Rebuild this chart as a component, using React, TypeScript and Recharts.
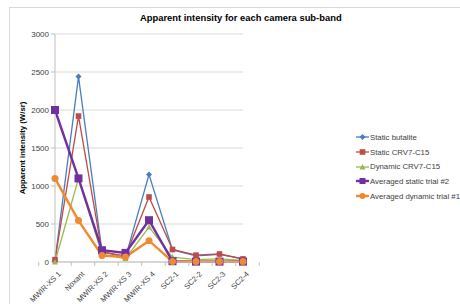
import React from "react"
import { LineChart, Line, XAxis, YAxis, CartesianGrid, Legend } from "recharts"

const bands = ["MWIR-XS 1", "Noxant", "MWIR-XS 2", "MWIR-XS 3", "MWIR-XS 4", "SC2-1", "SC2-2", "SC2-3", "SC2-4"]
const staticButalite = [20, 2440, 140, 60, 1150, 160, 80, 100, 40]
const staticCrv7 = [30, 1920, 130, 80, 855, 165, 90, 105, 40]
const dynamicCrv7 = [0, 1100, 100, 45, 460, 65, 30, 40, 20]
const avgStatic2 = [2000, 1100, 155, 120, 550, 10, 5, 5, 5]
const avgDynamic1 = [1100, 545, 85, 65, 280, 5, 5, 5, 5]
const yTicks = [0, 500, 1000, 1500, 2000, 2500, 3000]

const data = bands.map((b, i) => ({
  band: b,
  s1: staticButalite[i],
  s2: staticCrv7[i],
  s3: dynamicCrv7[i],
  s4: avgStatic2[i],
  s5: avgDynamic1[i],
}))

type Marker = "diamond" | "square" | "triangle" | "circle"

interface SeriesDef {
  key: string
  name: string
  color: string
  marker: Marker
  size: number
  width: number
}

const series: SeriesDef[] = [
  { key: "s1", name: "Static butalite", color: "#4a7ebb", marker: "diamond", size: 3, width: 1.3 },
  { key: "s2", name: "Static CRV7-C15", color: "#be4b48", marker: "square", size: 2.8, width: 1.3 },
  { key: "s3", name: "Dynamic CRV7-C15", color: "#98b954", marker: "triangle", size: 3, width: 1.3 },
  { key: "s4", name: "Averaged static trial #2", color: "#7030a0", marker: "square", size: 4, width: 2.4 },
  { key: "s5", name: "Averaged dynamic trial #1", color: "#f08a30", marker: "circle", size: 3.5, width: 2.4 },
]

const FONT = "Liberation Sans, Arial, sans-serif"

function drawMarker(m: Marker, cx: number, cy: number, s: number, color: string) {
  if (m === "square") return <rect x={cx - s} y={cy - s} width={s * 2} height={s * 2} fill={color} />
  if (m === "circle") return <circle cx={cx} cy={cy} r={s} fill={color} />
  if (m === "triangle")
    return <polygon points={`${cx},${cy - s} ${cx + s},${cy + s * 0.8} ${cx - s},${cy + s * 0.8}`} fill={color} />
  return <polygon points={`${cx},${cy - s} ${cx + s},${cy} ${cx},${cy + s} ${cx - s},${cy}`} fill={color} />
}

function makeDot(sd: SeriesDef) {
  return (props: any) => {
    const { cx, cy, index } = props
    if (cx == null || cy == null) return <g key={index} />
    return <g key={index}>{drawMarker(sd.marker, cx, cy, sd.size, sd.color)}</g>
  }
}

function BandTick(props: any) {
  const { x, payload } = props
  const half = 292 / bands.length / 2
  const ax = 262
  const tx = x + 5
  const ty = ax + 11
  return (
    <g>
      <line x1={x + half} y1={ax} x2={x + half} y2={ax + 4} stroke="#bfbfbf" />
      {payload.index === 0 && <line x1={x - half} y1={ax} x2={x - half} y2={ax + 4} stroke="#bfbfbf" />}
      <text
        x={tx}
        y={ty}
        transform={`rotate(-45 ${tx} ${ty})`}
        textAnchor="end"
        dominantBaseline="middle"
        fontSize={7.6}
        fill="#404040"
      >
        {payload.value}
      </text>
    </g>
  )
}

function LegendBox() {
  return (
    <div style={{ fontFamily: FONT, fontSize: 7.8, color: "#404040" }}>
      {series.map((sd) => (
        <div key={sd.key} style={{ display: "flex", alignItems: "center", height: 14.7, whiteSpace: "nowrap" }}>
          <svg width={13} height={10} style={{ marginRight: 1 }}>
            <line x1={0} y1={5} x2={13} y2={5} stroke={sd.color} strokeWidth={sd.width} />
            {drawMarker(sd.marker, 6.5, 5, Math.min(sd.size, 3), sd.color)}
          </svg>
          <span>{sd.name}</span>
        </div>
      ))}
    </div>
  )
}

export default function App() {
  return (
    <div style={{ position: "absolute", left: 0, top: 0, width: 460, height: 304, background: "#fff", overflow: "hidden" }}>
      <div
        style={{
          position: "absolute",
          left: 9,
          top: 7,
          width: 460,
          height: 310,
          border: "1px solid #d9d9d9",
        }}
      />
      <div
        style={{
          position: "absolute",
          left: 140,
          width: 200,
          top: 12,
          textAlign: "center",
          whiteSpace: "nowrap",
          fontFamily: FONT,
          fontWeight: "bold",
          fontSize: 9.4,
          color: "#000",
        }}
      >
        Apparent intensity for each camera sub-band
      </div>
      <div style={{ position: "absolute", left: 0, top: 0 }}>
        <LineChart
          width={460}
          height={304}
          data={data}
          margin={{ top: 34, right: 113, bottom: 0, left: 0 }}
          style={{ fontFamily: FONT }}
        >
          <CartesianGrid vertical={false} stroke="#d9d9d9" />
          <XAxis
            dataKey="band"
            stroke="#bfbfbf"
            tickLine={false}
            tick={<BandTick />}
            interval={0}
            height={42}
          />
          <YAxis
            domain={[0, 3000]}
            ticks={yTicks}
            width={55}
            stroke="#bfbfbf"
            tickSize={4}
            tick={{ fontSize: 8, fill: "#404040" }}
            label={{
              value: "Apparent intensity (W/sr)",
              angle: -90,
              position: "insideLeft",
              offset: 22,
              style: { textAnchor: "middle", fontSize: 7.8, fontWeight: "bold", fill: "#000" },
            }}
          />
          <Legend
            layout="vertical"
            align="right"
            verticalAlign="top"
            content={<LegendBox />}
            wrapperStyle={{ left: 356, top: 130, width: 104 }}
          />
          {series.map((sd) => (
            <Line
              key={sd.key}
              dataKey={sd.key}
              name={sd.name}
              stroke={sd.color}
              strokeWidth={sd.width}
              dot={makeDot(sd)}
              activeDot={false}
              isAnimationActive={false}
            />
          ))}
        </LineChart>
      </div>
    </div>
  )
}
